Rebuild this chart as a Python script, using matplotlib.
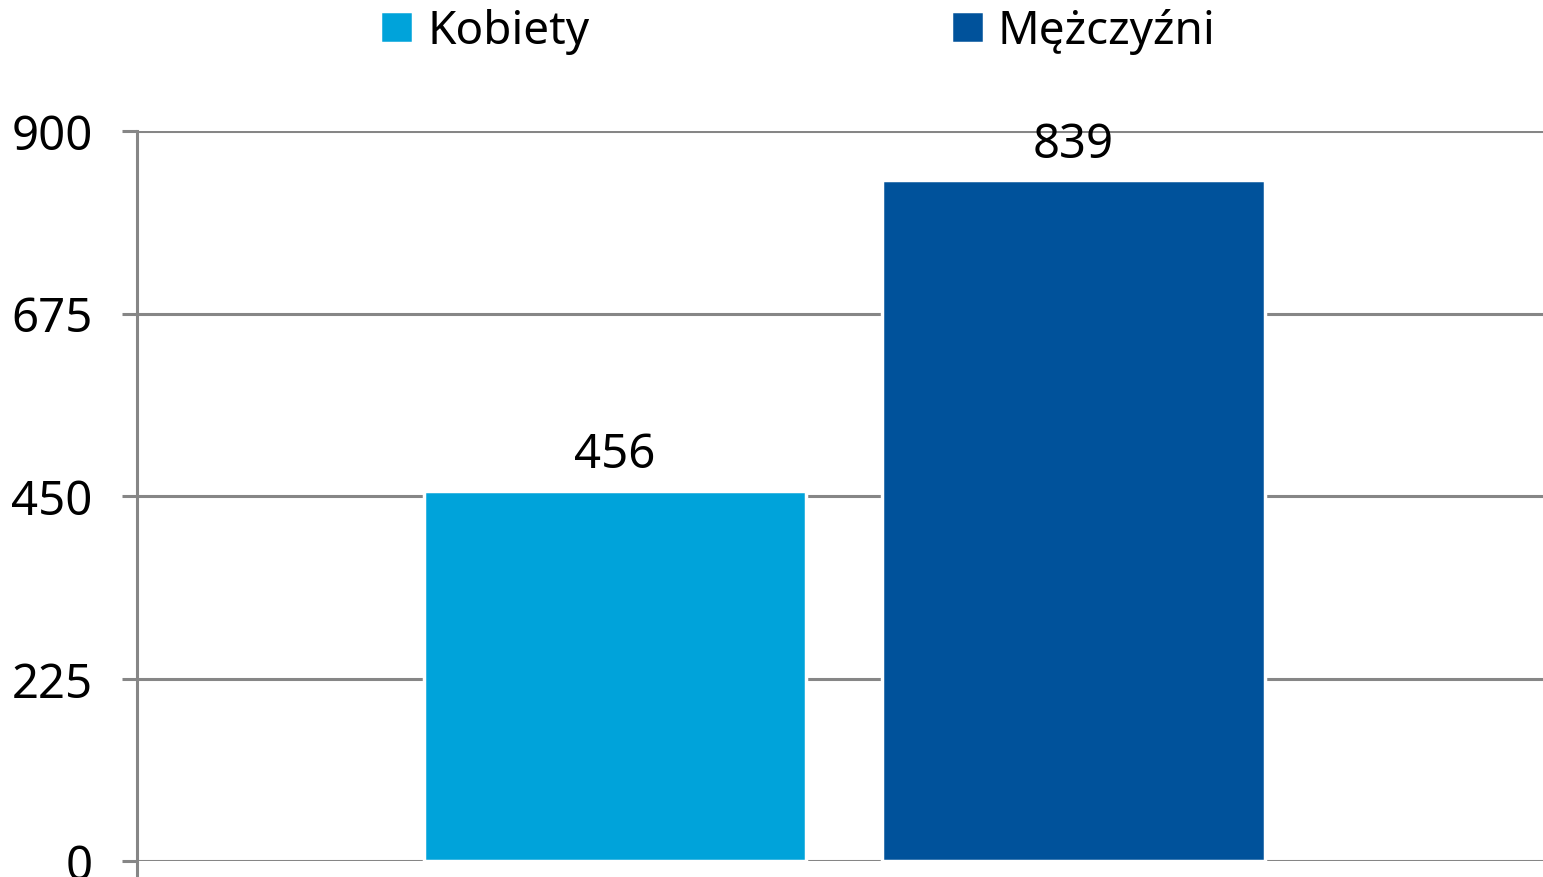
"""
Kobiety vs Mężczyźni - single-group bar chart.
"""

import matplotlib
matplotlib.use("Agg")
import matplotlib.pyplot as plt

# =============================================================================
# Data
# =============================================================================

SERIES = ["Kobiety", "Mężczyźni"]
VALUES = [456, 839]
COLORS = ["#00A3DA", "#00529B"]
Y_TICKS = [0, 225, 450, 675, 900]

# =============================================================================
# Style
# =============================================================================

plt.rcParams["font.family"] = ["Noto Sans", "DejaVu Sans"]
FONT_SIZE = 34
GRID_COLOR = "#868686"

W, H = 1543, 878
DPI = 100

fig = plt.figure(figsize=(W / DPI, H / DPI), dpi=DPI)
ax = fig.add_axes([137 / W, 1 - 862 / H, (W - 137) / W, (862 - 132) / H])

BAR_WIDTH = 0.272
OFFSETS = [-0.160, 0.166]

for name, val, col, off in zip(SERIES, VALUES, COLORS, OFFSETS):
    ax.bar(off, val, width=BAR_WIDTH, color=col, edgecolor="white",
           linewidth=2.5, label=name, zorder=3)
    ax.text(off, val + 16, f"{val}", ha="center", va="bottom",
            fontsize=FONT_SIZE, color="black", zorder=4)

ax.set_xlim(-0.5, 0.5)
ax.set_ylim(0, 900)
ax.set_yticks(Y_TICKS)
ax.set_yticklabels([str(t) for t in Y_TICKS], fontsize=FONT_SIZE)
ax.yaxis.grid(True, color=GRID_COLOR, linewidth=2.2, zorder=0)
ax.set_axisbelow(True)

ax.set_xticks([-0.5])
ax.set_xticklabels([""])
ax.tick_params(axis="x", length=12, width=2.2, color=GRID_COLOR, direction="out")
ax.tick_params(axis="y", length=11, width=2.2, color=GRID_COLOR,
               direction="out", pad=21)

for side in ["top", "right"]:
    ax.spines[side].set_visible(False)
ax.spines["bottom"].set_visible(False)
ax.spines["left"].set_color(GRID_COLOR)
ax.spines["left"].set_linewidth(2.2)

handles, labels = ax.get_legend_handles_labels()
fig.legend(handles, labels, loc="center", bbox_to_anchor=(798 / W, 1 - 32 / H),
           ncol=2, frameon=False, fontsize=33, handlelength=0.72,
           handleheight=0.72, handletextpad=0.3, columnspacing=7.9)

fig.savefig("out.png", dpi=DPI)
